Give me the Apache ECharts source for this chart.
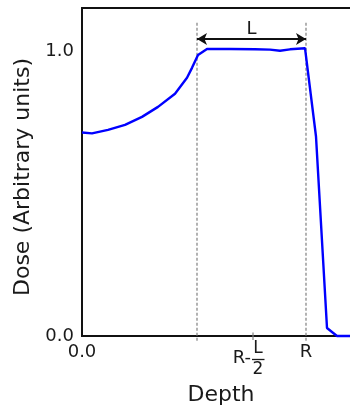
<!DOCTYPE html>
<html>
<head>
<meta charset="utf-8">
<script src="https://cdn.jsdelivr.net/npm/echarts@6/dist/echarts.min.js"></script>
<style>
html,body{margin:0;padding:0;background:#fff;}
#c{width:350px;height:407px;}
</style>
</head>
<body>
<div id="c"></div>
<script>
// Data
const depth = [0, 1.0, 2.6, 4.3, 6.0, 7.6, 9.3, 10.5, 11.0, 11.6, 12.5, 14.8, 17.3, 18.8, 19.8, 20.8, 22.3, 23.4, 24.5, 25.5, 27.8];
const dose  = [0.714, 0.711, 0.7235, 0.741, 0.769, 0.804, 0.850, 0.906, 0.941, 0.986, 1.007, 1.007, 1.006, 1.005, 1.001, 1.006, 1.010, 0.70, 0.028, 0, 0];
const R = 22.4;
const RminusL = 11.5;
const RminusHalfL = 17.1;
const yTicks = [0, 1];
const xTickLabels = [{v: 0, t: '0.0'}, {v: R, t: 'R'}];
const arrowY = 1.042;
const dashTop = 1.10, dashBottom = -0.017;
const tickTop = 0.012, tickBottom = -0.014;

const FONT = 'DejaVu Sans';
const TXT = '#1a1a1a';
const chart = echarts.init(document.getElementById('c'), null, {renderer: 'canvas'});

const lineData = depth.map((d, i) => [d, dose[i]]);
const vline = (x, y0, y1, style) => ({
  type: 'line', data: [[x, y0], [x, y1]], showSymbol: false, clip: false, silent: true,
  lineStyle: style, z: 1
});
const dashStyle = {color: '#808080', width: 1.2, type: [3, 2]};

const option = {
  animation: false,
  textStyle: {fontFamily: FONT},
  grid: {left: 82, top: 8, bottom: 71, right: -10, outerBoundsMode: 'none', containLabel: false,
         show: true, borderColor: '#111', borderWidth: 1.8, backgroundColor: 'transparent'},
  xAxis: {
    type: 'value', min: 0, max: 27.8,
    name: 'Depth', nameLocation: 'middle', nameGap: 48,
    nameTextStyle: {fontSize: 22, color: TXT, fontFamily: FONT},
    axisLine: {show: true, onZero: false, lineStyle: {color: '#111', width: 1.8}},
    axisTick: {show: false},
    splitLine: {show: false},
    axisLabel: {
      customValues: xTickLabels.map(o => o.v),
      formatter: v => { const f = xTickLabels.find(o => Math.abs(o.v - v) < 1e-6); return f ? f.t : ''; },
      fontSize: 18, color: TXT, margin: 7, fontFamily: FONT
    }
  },
  yAxis: {
    type: 'value', min: 0, max: 1.151,
    name: 'Dose (Arbitrary units)', nameLocation: 'middle', nameGap: 45,
    nameTextStyle: {fontSize: 22, color: TXT, fontFamily: FONT, padding: [0, 10, 0, 0]},
    axisLine: {show: true, onZero: false, lineStyle: {color: '#111', width: 1.8}},
    axisTick: {show: false},
    splitLine: {show: false},
    axisLabel: {
      customValues: yTicks,
      formatter: v => v.toFixed(1),
      fontSize: 18, color: TXT, margin: 8, fontFamily: FONT
    }
  },
  series: [
    vline(RminusL, dashBottom, dashTop, dashStyle),
    vline(R, dashBottom, dashTop, dashStyle),
    vline(RminusHalfL, tickBottom, tickTop, {color: '#808080', width: 1.2}),
    {
      type: 'line',
      data: lineData,
      showSymbol: false,
      clip: false,
      z: 3,
      lineStyle: {color: '#0000ff', width: 2.4},
      markLine: {
        silent: true,
        symbol: 'none',
        animation: false,
        data: [
          [{coord: [RminusL, arrowY], symbol: 'arrow', symbolSize: [9, 10], lineStyle: {color: '#111', width: 1.8, type: 'solid'},
            label: {show: true, position: 'middle', formatter: 'L', fontSize: 18, color: TXT, distance: 1, fontFamily: FONT}},
           {coord: [R, arrowY], symbol: 'arrow', symbolSize: [9, 10]}]
        ]
      }
    }
  ]
};
chart.setOption(option);

// Fraction tick label "R-L/2" placed at the axis position via the chart's scales
const p = chart.convertToPixel({xAxisIndex: 0, yAxisIndex: 0}, [RminusHalfL, 0]);
chart.setOption({
  graphic: [
    {type: 'text', x: p[0] - 2, y: p[1] + 22.5, style: {text: 'R-', font: '18px "DejaVu Sans"', fill: TXT, align: 'right', verticalAlign: 'middle'}},
    {type: 'text', x: p[0] + 5, y: p[1] + 12.5, style: {text: 'L', font: '17px "DejaVu Sans"', fill: TXT, align: 'center', verticalAlign: 'middle'}},
    {type: 'line', shape: {x1: p[0] - 1, y1: p[1] + 23.5, x2: p[0] + 11.5, y2: p[1] + 23.5}, style: {stroke: TXT, lineWidth: 1.3}},
    {type: 'text', x: p[0] + 5, y: p[1] + 33.5, style: {text: '2', font: '17px "DejaVu Sans"', fill: TXT, align: 'center', verticalAlign: 'middle'}}
  ]
});
</script>
</body>
</html>
